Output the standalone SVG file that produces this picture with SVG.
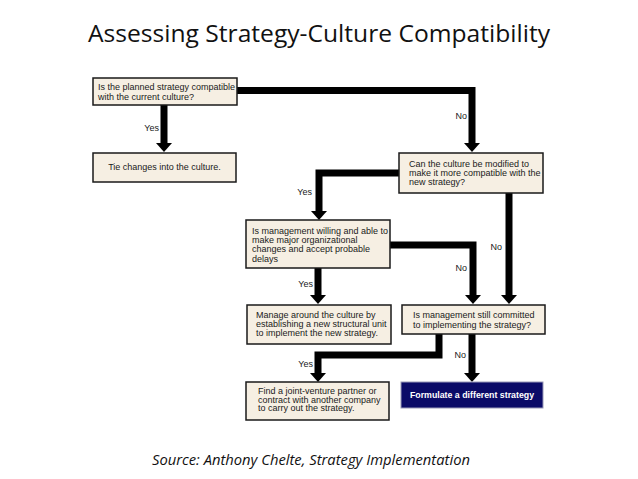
<svg xmlns="http://www.w3.org/2000/svg" width="638" height="479" viewBox="0 0 638 479">
<defs>
<marker id="ah" markerUnits="userSpaceOnUse" viewBox="0 0 9 16" markerWidth="9" markerHeight="16" refX="0" refY="8" orient="auto">
<path d="M0,0 L9,8 L0,16 z" fill="#000"/>
</marker>
<style>
.box{fill:#f6efe3;stroke:#1a1a1a;stroke-width:1.5}
.dark{fill:#0b0b68;stroke:#9a9ab8;stroke-width:1}
.t{font-family:"Liberation Sans",Arial,sans-serif;font-size:9px;fill:#1a1a1a}
.w{font-family:"Liberation Sans",Arial,sans-serif;font-size:8.8px;font-weight:bold;fill:#fff}
.lbl{font-family:"Liberation Sans",Arial,sans-serif;font-size:9px;fill:#1a1a1a;text-anchor:end}
.c{fill:none;stroke:#000;stroke-width:7;marker-end:url(#ah)}
</style>
</defs>
<rect width="638" height="479" fill="#fff"/>
<text x="319" y="42" text-anchor="middle" font-family="'Open Sans','DejaVu Sans',sans-serif" font-size="23.5" fill="#111" textLength="462" lengthAdjust="spacingAndGlyphs">Assessing Strategy-Culture Compatibility</text>
<g id="connectors">
<path class="c" d="M164,105 V143"/>
<path class="c" d="M237,90.5 H472 V143"/>
<path class="c" d="M399,173 H319 V211"/>
<path class="c" d="M390,245 H473 V295"/>
<path class="c" d="M509,193 V295"/>
<path class="c" d="M318,268 V295"/>
<path class="c" d="M439,334 V355 H318 V373"/>
<path class="c" d="M472,334 V373"/>
<text class="lbl" x="159" y="131">Yes</text>
<text class="lbl" x="467" y="119">No</text>
<text class="lbl" x="312" y="195">Yes</text>
<text class="lbl" x="502" y="250">No</text>
<text class="lbl" x="467" y="271">No</text>
<text class="lbl" x="313" y="287">Yes</text>
<text class="lbl" x="466" y="358">No</text>
<text class="lbl" x="313" y="367">Yes</text>
</g>
<g id="n1">
<rect class="box" x="93" y="78" width="144" height="27"/>
<text class="t" x="98" y="90">Is the planned strategy compatible</text>
<text class="t" x="98" y="100">with the current culture?</text>
</g>
<g id="n2">
<rect class="box" x="93" y="153" width="143" height="29"/>
<text class="t" x="164.5" y="170" text-anchor="middle">Tie changes into the culture.</text>
</g>
<g id="n3">
<rect class="box" x="399" y="153" width="144" height="40"/>
<text class="t" x="409" y="167">Can the culture be modified to</text>
<text class="t" x="409" y="176">make it more compatible with the</text>
<text class="t" x="409" y="185">new strategy?</text>
</g>
<g id="n4">
<rect class="box" x="246" y="220" width="144" height="48"/>
<text class="t" x="252" y="234">Is management willing and able to</text>
<text class="t" x="252" y="243">make major organizational</text>
<text class="t" x="252" y="252">changes and accept probable</text>
<text class="t" x="252" y="262">delays</text>
</g>
<g id="n5">
<rect class="box" x="247" y="305" width="144" height="39"/>
<text class="t" x="256" y="318">Manage around the culture by</text>
<text class="t" x="256" y="327">establishing a new structural unit</text>
<text class="t" x="256" y="336">to implement the new strategy.</text>
</g>
<g id="n6">
<rect class="box" x="402" y="305" width="143" height="29"/>
<text class="t" x="413" y="318">Is management still committed</text>
<text class="t" x="413" y="328">to implementing the strategy?</text>
</g>
<g id="n7">
<rect class="box" x="246" y="382" width="143" height="38"/>
<text class="t" x="258" y="394">Find a joint-venture partner or</text>
<text class="t" x="258" y="402.5">contract with another company</text>
<text class="t" x="258" y="411">to carry out the strategy.</text>
</g>
<g id="n8">
<rect class="dark" x="401" y="382" width="142" height="26"/>
<text class="w" x="472" y="398" text-anchor="middle">Formulate a different strategy</text>
</g>
<text x="311" y="465" text-anchor="middle" font-family="'Open Sans','DejaVu Sans',sans-serif" font-style="italic" font-size="14.5" fill="#111" textLength="318" lengthAdjust="spacingAndGlyphs">Source: Anthony Chelte, Strategy Implementation</text>
</svg>
